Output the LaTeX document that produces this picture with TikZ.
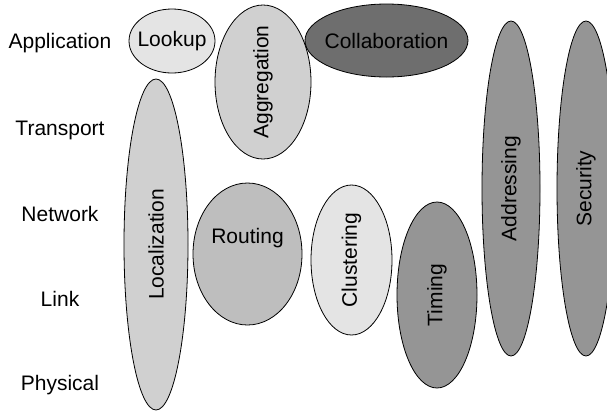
\documentclass[tikz,border=0pt]{standalone}
\usepackage{fontspec}
\setmainfont{Liberation Sans}
\usetikzlibrary{shapes.geometric}
\definecolor{paleg}{HTML}{E4E4E4}
\definecolor{lightg}{HTML}{D0D0D0}
\definecolor{midg}{HTML}{BEBEBE}
\definecolor{greyg}{HTML}{959595}
\definecolor{darkg}{HTML}{6E6E6E}
\tikzset{
  area/.style={ellipse, draw=black, line width=0.8pt, inner sep=0pt, outer sep=0pt},
  layer/.style={font=\fontsize{21}{25}\selectfont, inner sep=0pt},
  topic/.style={font=\fontsize{21}{25}\selectfont},
  vert/.style={topic, rotate=90}
}
\begin{document}
\begin{tikzpicture}[x=1pt, y=-1pt]
\useasboundingbox (0,0) rectangle (607,413);

% protocol layers
\node[layer] (app) at (60,43) {Application};
\node[layer] (tra) at (60,130) {Transport};
\node[layer] (net) at (60,214) {Network};
\node[layer] (lnk) at (60,299) {Link};
\node[layer] (phy) at (60,385) {Physical};

% cross-layer service areas
\node[area, fill=paleg, minimum width=86pt, minimum height=64pt] (lookup) at (172,41) {};
\node[topic] (lookupt) at (lookup.center) {Lookup};
\node[area, fill=lightg, minimum width=96pt, minimum height=154pt] (aggr) at (263,82) {};
\node[vert] (aggrt) at (aggr.center) {Aggregation};
\node[area, fill=darkg, minimum width=163pt, minimum height=73pt] (collab) at (386.5,40.5) {};
\node[topic] (collabt) at (collab.center) {Collaboration};
\node[area, fill=lightg, minimum width=64pt, minimum height=331pt] (loc) at (156,244.5) {};
\node[vert] (loct) at (loc.center) {Localization};
\node[area, fill=midg, minimum width=109pt, minimum height=142pt] (rout) at (247.5,254) {};
\node[topic] (routt) at (247.5,238) {Routing};
\node[area, fill=paleg, minimum width=81pt, minimum height=150pt] (clus) at (351.5,260) {};
\node[vert] (clust) at (clus.center) {Clustering};
\node[area, fill=greyg, minimum width=80pt, minimum height=186pt] (timing) at (437,295) {};
\node[vert] (timingt) at (timing.center) {Timing};
\node[area, fill=greyg, minimum width=58pt, minimum height=335pt] (addr) at (511,188.5) {};
\node[vert] (addrt) at (addr.center) {Addressing};
\node[area, fill=greyg, minimum width=58pt, minimum height=335pt] (sec) at (586,188.5) {};
\node[vert] (sect) at (sec.center) {Security};
\end{tikzpicture}
\end{document}
